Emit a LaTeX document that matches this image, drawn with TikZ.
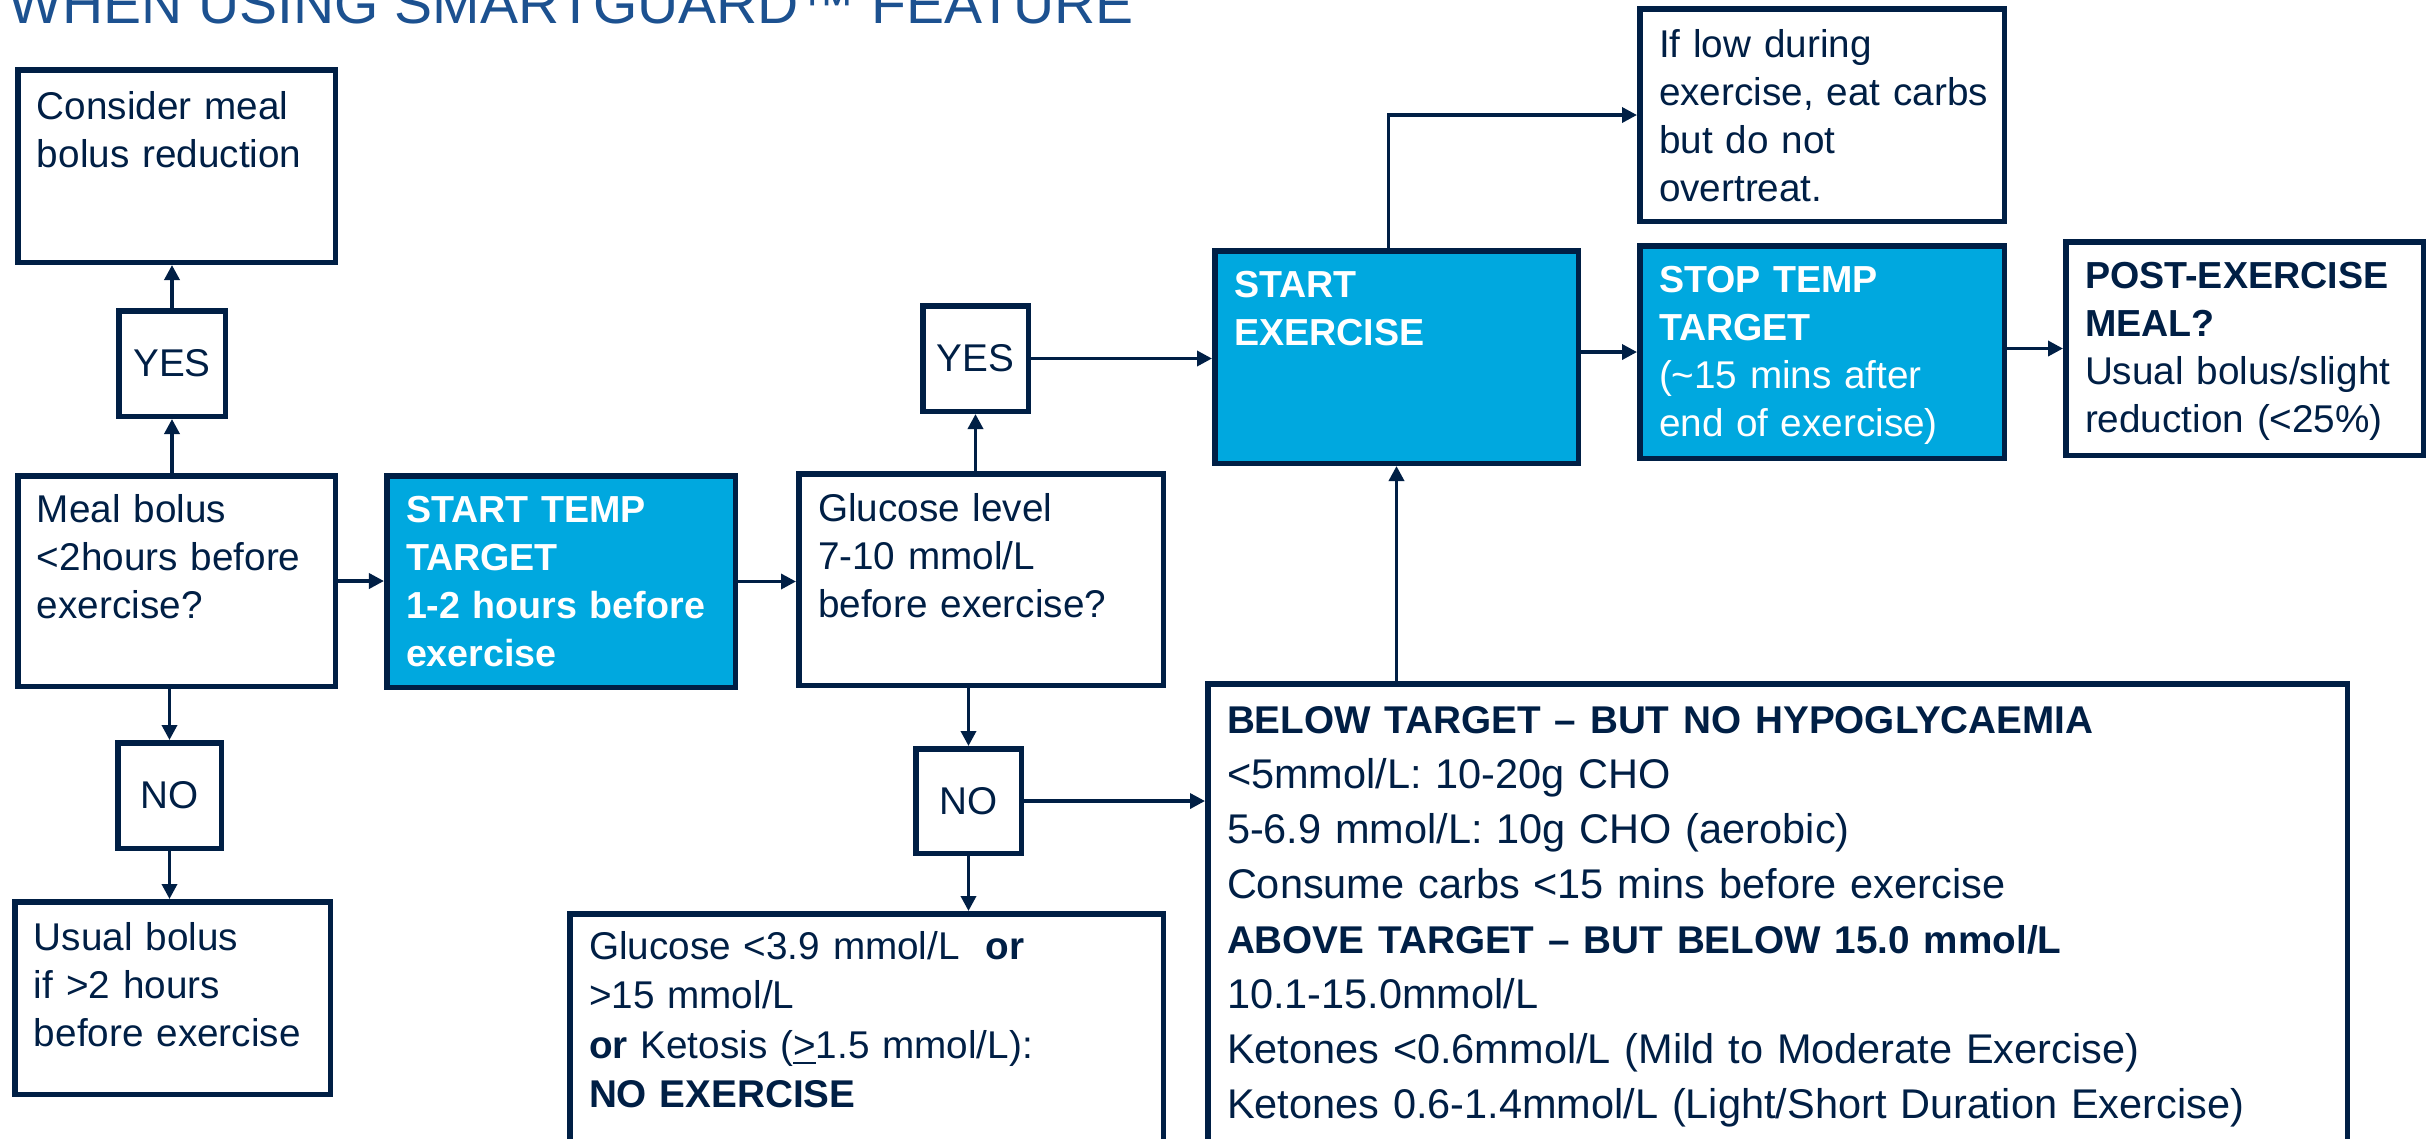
\documentclass[tikz,border=0pt]{standalone}
\usepackage{fontspec}
\setmainfont{Liberation Sans}
\usetikzlibrary{arrows.meta}
\definecolor{navy}{HTML}{001F45}
\definecolor{cyanb}{HTML}{00A8DF}
\definecolor{titleblue}{HTML}{1C5190}
\newcommand\smallfont{\fontsize{11pt}{13.66pt}\selectfont}
\newcommand\smallbold{\fontsize{10.7pt}{13.66pt}\selectfont\bfseries}
\newcommand\bigfont{\fontsize{11.8pt}{15.65pt}\selectfont}
\newcommand\bigb[1]{{\fontsize{11pt}{15.65pt}\selectfont\bfseries #1}}
% name, style, x1, y1, x2, y2 (outer edges, px), first baseline offset, text
\newcommand\flowbox[8]{%
  \node[#2, inner sep=0pt, align=left,
    text width={(#5-#3-44)*0.01cm},
    minimum width={(#5-#3-5.5)*0.01cm},
    minimum height={(#6-#4-5.5)*0.01cm},
    text height={(#7-2.75)*0.01cm},
    text depth={(#6-#4-#7-2.75)*0.01cm}] (#1) at ({(#3+#5)/2},{(#4+#6)/2}) {#8};}
% name, x1, y1, x2, y2, text
\newcommand\tagbox[6]{%
  \node[boxline, inner sep=0pt, font=\smallfont,
    minimum width={(#4-#2-5.5)*0.01cm},
    minimum height={(#5-#3-5.5)*0.01cm}] (#1) at ({(#2+#4)/2},{(#3+#5)/2}) {#6};}
\tikzset{
  boxline/.style={draw=navy, line width=0.055cm, text=navy},
  whitebox/.style={boxline, fill=white, font=\smallfont},
  cyanbox/.style={boxline, fill=cyanb, text=white, font=\smallbold},
  arr/.style={draw=navy, line width=0.035cm, -{Triangle[length=0.15cm,width=0.15cm]}}
}
\begin{document}
\begin{tikzpicture}[x=0.01cm,y=-0.01cm]
\useasboundingbox (0,0) rectangle (2430,1138);
\clip (0,0) rectangle (2430,1138);
\fill[white] (0,0) rectangle (2430,1138);

\node[anchor=base west, inner sep=0pt, text=titleblue, font=\fontsize{16.2pt}{19pt}\selectfont] (title) at (8,23) {WHEN USING SMARTGUARD™ FEATURE};

\flowbox{consider}{whitebox}{15}{67}{338}{265}{52}{Consider meal\\bolus reduction}
\tagbox{yes1}{116}{308}{228}{419}{YES}
\flowbox{meal}{whitebox}{15}{473}{338}{689}{49}{Meal bolus\\<2hours before\\exercise?}
\tagbox{no1}{115}{740}{224}{851}{NO}
\flowbox{usual}{whitebox}{12}{899}{333}{1097}{51}{Usual bolus\\if >2 hours\\before exercise}
\flowbox{starttemp}{cyanbox}{384}{473}{738}{690}{49}{START TEMP\\TARGET\\1-2 hours before\\exercise}
\flowbox{gluc}{whitebox}{796}{471}{1166}{688}{50}{Glucose level\\7-10 mmol/L\\before exercise?}
\tagbox{yes2}{920}{303}{1031}{414}{YES}
\tagbox{no2}{913}{746}{1024}{856}{NO}
\flowbox{noex}{whitebox, font=\fontsize{11pt}{14.1pt}\selectfont}{567}{911}{1166}{1170}{48}{Glucose <3.9 mmol/L\ \ \textbf{or}\\>15 mmol/L\\\textbf{or} Ketosis (\underline{>}1.5 mmol/L):\\\textbf{NO EXERCISE}}
\flowbox{below}{whitebox, font=\bigfont}{1205}{681}{2350}{1170}{52}{\bigb{BELOW TARGET -- BUT NO HYPOGLYCAEMIA}\\<5mmol/L: 10-20g CHO\\5-6.9 mmol/L: 10g CHO (aerobic)\\Consume carbs <15 mins before exercise\\\bigb{ABOVE TARGET -- BUT BELOW 15.0 mmol/L}\\10.1-15.0mmol/L\\Ketones <0.6mmol/L (Mild to Moderate Exercise)\\Ketones 0.6-1.4mmol/L (Light/Short Duration Exercise)}
\flowbox{startex}{cyanbox}{1212}{248}{1581}{466}{49}{START\\EXERCISE}
\flowbox{iflow}{whitebox}{1637}{6}{2007}{224}{51}{\mbox{If low during}\\\mbox{exercise, eat carbs}\\\mbox{but do not}\\\mbox{overtreat.}}
\flowbox{stoptemp}{cyanbox}{1637}{243}{2007}{461}{49}{STOP TEMP\\TARGET\\{\smallfont\mdseries (\textasciitilde15 mins after\\end of exercise)}}
\flowbox{post}{whitebox}{2063}{239}{2426}{458}{49}{{\smallbold POST-EXERCISE\\MEAL?}\\Usual bolus/slight\\reduction (<25\%)}

% connectors
\draw[arr] (yes1.south |- meal.north) -- (yes1.south);
\draw[arr] (yes1.north) -- (yes1.north |- consider.south);
\draw[arr] (no1.north |- meal.south) -- (no1.north);
\draw[arr] (no1.south) -- (no1.south |- usual.north);
\draw[arr] (meal.east) -- (meal.east -| starttemp.west);
\draw[arr] (starttemp.east) -- (starttemp.east -| gluc.west);
\draw[arr] (yes2.south |- gluc.north) -- (yes2.south);
\draw[arr] (yes2.east) -- (yes2.east -| startex.west);
\draw[arr] (no2.north |- gluc.south) -- (no2.north);
\draw[arr] (no2.south) -- (no2.south |- noex.north);
\draw[arr] (no2.east) -- (no2.east -| below.west);
\draw[arr] (startex.south |- below.north) -- (startex.south);
\draw[arr] ([xshift=-0.08cm]startex.north) |- (iflow.west);
\draw[arr] (stoptemp.west -| startex.east) -- (stoptemp.west);
\draw[arr] (post.west -| stoptemp.east) -- (post.west);
\end{tikzpicture}
\end{document}
